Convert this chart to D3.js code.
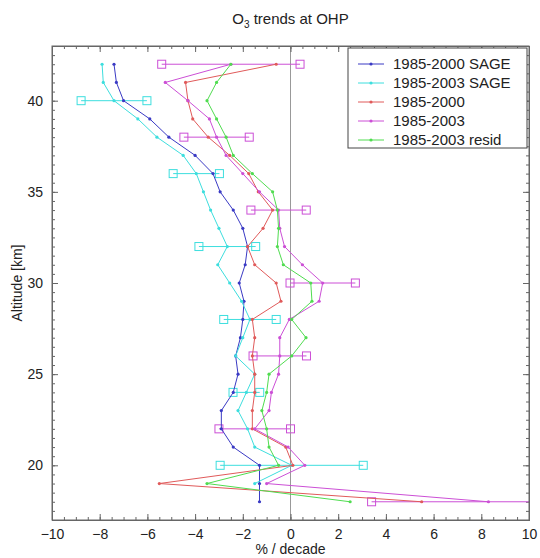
<!DOCTYPE html>
<html>
<head>
<meta charset="utf-8">
<script src="https://cdn.jsdelivr.net/npm/d3@7"></script>
<style>
  body { margin: 0; background: #fff; }
  svg text { font-family: "Liberation Sans", Arial, sans-serif; fill: #222; }
</style>
</head>
<body>
<svg id="chart" width="540" height="558"></svg>
<script>
// altitude levels (km)
const altitudes = [42, 41, 40, 39, 38, 37, 36, 35, 34, 33, 32, 31, 30, 29, 28, 27, 26, 25, 24, 23, 22, 21, 20, 19, 18];

// trends in % / decade
const sage2000 = [-7.4, -7.3, -7.0, -5.9, -5.1, -4.0, -3.25, -2.95, -2.4, -2.0, -1.8, -1.9, -2.15, -1.95, -2.0, -2.1, -2.3, -2.2, -2.4, -2.9, -2.9, -2.4, -1.3, -1.3, -1.3];
const sage2003 = [-7.9, -7.85, -7.4, -6.4, -5.6, -4.5, -3.95, -3.65, -3.35, -3.0, -2.65, -3.05, -2.55, -2.05, -1.7, -2.0, -2.3, -1.5, -1.85, -2.2, -1.8, -1.5, 0.05, -1.5, null];
const ohp2000 = [-0.6, -4.4, -4.3, -4.1, -3.45, -2.55, -1.75, -1.35, -0.75, -1.15, -1.8, -1.5, -0.6, -0.4, -1.6, -1.5, -1.6, -1.5, -1.5, -1.6, -1.6, -0.2, 0.1, -5.5, 5.5];
const ohp2003 = [-2.5, -5.25, -4.3, -3.4, -3.1, -2.7, -2.0, -1.3, -0.5, -0.45, -0.25, 0.5, 1.35, 1.2, -0.05, -0.45, -0.45, -0.5, -0.8, -0.9, -1.5, -0.1, 0.6, -1.0, 8.3];
const ohpResid = [-2.5, -3.1, -3.5, -3.1, -2.7, -2.4, -1.6, -0.75, -0.55, -0.5, -0.55, -0.3, 0.85, 0.9, 0.05, 0.65, 0.05, -0.9, -1.0, -1.2, -1.0, -0.9, -0.5, -3.5, 2.5];

// error bars (half widths, % / decade)
const sageErrAlt = [40, 36, 32, 28, 24, 20];
const sageErr = [1.38, 0.97, 1.19, 1.1, 0.56, 3.0];
const ohpErrAlt = [42, 38, 34, 30, 26, 22, 18];
const ohpErr = [2.9, 1.37, 1.16, 1.37, 1.12, 1.5, 4.9];

const seriesNames = ["1985-2000 SAGE", "1985-2003 SAGE", "1985-2000", "1985-2003", "1985-2003 resid"];
const seriesValues = [sage2000, sage2003, ohp2000, ohp2003, ohpResid];
const seriesColors = ["#3a3ac4", "#3ddede", "#e05a5a", "#cc4fd6", "#50dc50"];

const margin = {top: 46, right: 11, bottom: 38, left: 52};
const width = 540, height = 558;
const svg = d3.select("#chart");

const x = d3.scaleLinear().domain([-10, 10]).range([margin.left, width - margin.right]);
const y = d3.scaleLinear().domain([17, 43]).range([height - margin.bottom, margin.top]);

const plotW = x.range()[1] - x.range()[0];
const plotH = y.range()[0] - y.range()[1];

// zero line
svg.append("line")
  .attr("x1", x(0)).attr("x2", x(0))
  .attr("y1", y(17)).attr("y2", y(43))
  .attr("stroke", "#999").attr("stroke-width", 1);

// axes with inward ticks on all four sides
const xMajor = d3.range(-10, 10.01, 2);
const xMinor = d3.range(-10, 10.01, 0.5);
const yMajor = [20, 25, 30, 35, 40];
const yMinor = d3.range(17, 43.01, 0.5);

const axisColor = "#666";
function drawAxis(axis, pos) {
  const g = svg.append("g").attr("transform", pos).call(axis);
  g.select(".domain").attr("stroke", axisColor);
  g.selectAll(".tick line").attr("stroke", axisColor);
  g.selectAll("text").attr("font-size", 14).attr("fill", "#222");
  return g;
}

drawAxis(d3.axisBottom(x).tickValues(xMinor).tickSize(-3).tickFormat(""), `translate(0,${y(17)})`);
drawAxis(d3.axisBottom(x).tickValues(xMajor).tickSize(-6).tickPadding(9).tickFormat(d3.format("d")), `translate(0,${y(17)})`);
drawAxis(d3.axisTop(x).tickValues(xMinor).tickSize(-3).tickFormat(""), `translate(0,${y(43)})`);
drawAxis(d3.axisTop(x).tickValues(xMajor).tickSize(-6).tickFormat(""), `translate(0,${y(43)})`);
drawAxis(d3.axisLeft(y).tickValues(yMinor).tickSize(-3).tickFormat(""), `translate(${x(-10)},0)`);
drawAxis(d3.axisLeft(y).tickValues(yMajor).tickSize(-6).tickPadding(9), `translate(${x(-10)},0)`);
drawAxis(d3.axisRight(y).tickValues(yMinor).tickSize(-3).tickFormat(""), `translate(${x(10)},0)`);
drawAxis(d3.axisRight(y).tickValues(yMajor).tickSize(-6).tickFormat(""), `translate(${x(10)},0)`);

// clip for data
svg.append("clipPath").attr("id", "plotClip")
  .append("rect").attr("x", x(-10)).attr("y", y(43)).attr("width", plotW).attr("height", plotH);
const plot = svg.append("g").attr("clip-path", "url(#plotClip)");

// error bars
function drawErrors(alts, errs, values, color) {
  alts.forEach((a, i) => {
    const c = values[altitudes.indexOf(a)];
    const lo = c - errs[i], hi = c + errs[i];
    plot.append("line")
      .attr("x1", x(lo)).attr("x2", x(hi)).attr("y1", y(a)).attr("y2", y(a))
      .attr("stroke", color).attr("stroke-width", 1);
    [lo, hi].forEach(v => {
      plot.append("rect")
        .attr("x", x(v) - 4).attr("y", y(a) - 4).attr("width", 8).attr("height", 8)
        .attr("fill", "none").attr("stroke", color).attr("stroke-width", 1);
    });
  });
}
drawErrors(sageErrAlt, sageErr, sage2003, seriesColors[1]);
drawErrors(ohpErrAlt, ohpErr, ohp2003, seriesColors[3]);

// profiles
const line = d3.line()
  .defined(d => d[0] != null)
  .x(d => x(d[0]))
  .y(d => y(d[1]));

seriesValues.forEach((vals, s) => {
  const pts = vals.map((v, i) => [v, altitudes[i]]);
  plot.append("path")
    .datum(pts)
    .attr("d", line)
    .attr("fill", "none")
    .attr("stroke", seriesColors[s])
    .attr("stroke-width", 1);
  plot.selectAll(null)
    .data(pts.filter(d => d[0] != null))
    .enter().append("circle")
    .attr("cx", d => x(d[0])).attr("cy", d => y(d[1]))
    .attr("r", 1.6)
    .attr("fill", seriesColors[s]);
});

// frame
svg.append("rect")
  .attr("x", x(-10)).attr("y", y(43)).attr("width", plotW).attr("height", plotH)
  .attr("fill", "none").attr("stroke", axisColor);

// legend
const legend = svg.append("g").attr("transform", "translate(348,48)");
legend.append("rect").attr("width", 179).attr("height", 100)
  .attr("fill", "#fff").attr("stroke", "#444");
seriesNames.forEach((name, i) => {
  const ly = 16 + i * 19;
  legend.append("line").attr("x1", 10).attr("x2", 36).attr("y1", ly).attr("y2", ly)
    .attr("stroke", seriesColors[i]).attr("stroke-width", 1);
  legend.append("circle").attr("cx", 23).attr("cy", ly).attr("r", 1.6).attr("fill", seriesColors[i]);
  legend.append("text").attr("x", 45).attr("y", ly).attr("dy", "0.35em")
    .attr("font-size", 15).text(name);
});

// title and axis labels
const title = svg.append("text")
  .attr("x", (x(-10) + x(10)) / 2).attr("y", 24)
  .attr("text-anchor", "middle").attr("font-size", 15);
title.append("tspan").text("O");
title.append("tspan").attr("font-size", 10).attr("dy", 4).text("3");
title.append("tspan").attr("dy", -4).text(" trends at OHP");

svg.append("text")
  .attr("x", (x(-10) + x(10)) / 2).attr("y", 554)
  .attr("text-anchor", "middle").attr("font-size", 14)
  .text("% / decade");

svg.append("text")
  .attr("transform", `translate(22,${(y(17) + y(43)) / 2}) rotate(-90)`)
  .attr("text-anchor", "middle").attr("font-size", 14)
  .text("Altitude [km]");
</script>
</body>
</html>
